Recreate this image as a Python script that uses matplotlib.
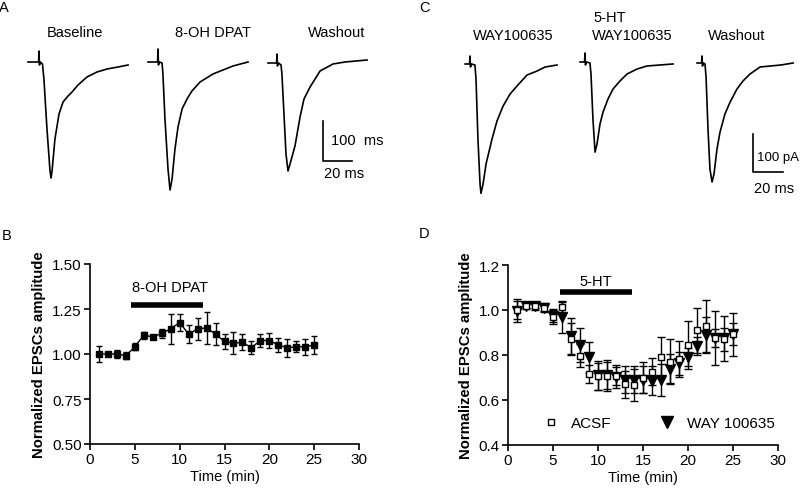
import matplotlib
matplotlib.use("Agg")
import matplotlib.pyplot as plt
from matplotlib.lines import Line2D
import numpy as np

plt.rcParams['font.family'] = ['Liberation Sans', 'DejaVu Sans']

# ---- panel B : 8-OH DPAT time course
temps = np.arange(1, 26)
dpat_moy = [1.00, 1.00, 1.00, 0.99, 1.04, 1.105, 1.095, 1.115, 1.14, 1.175,
            1.11, 1.14, 1.145, 1.11, 1.07, 1.06, 1.065, 1.035, 1.075, 1.075,
            1.05, 1.035, 1.04, 1.04, 1.05]
dpat_err = [0.045, 0.01, 0.02, 0.02, 0.02, 0.02, 0.01, 0.025, 0.085, 0.045,
            0.05, 0.06, 0.09, 0.06, 0.04, 0.06, 0.045, 0.035, 0.035, 0.04,
            0.04, 0.05, 0.03, 0.045, 0.05]
dpat_barre = (4.55, 12.6)

# ---- panel D : 5-HT, ACSF vs WAY 100635
acsf_moy = [1.00, 1.02, 1.02, 1.01, 0.97, 1.012, 0.871, 0.797, 0.714, 0.705,
            0.708, 0.708, 0.671, 0.667, 0.70, 0.726, 0.79, 0.77, 0.782, 0.845,
            0.911, 0.928, 0.874, 0.87, 0.893]
acsf_err = [0.04, 0.01, 0.01, 0.015, 0.03, 0.03, 0.07, 0.05, 0.04, 0.06,
            0.07, 0.04, 0.06, 0.07, 0.07, 0.06, 0.09, 0.1, 0.08, 0.105,
            0.10, 0.115, 0.04, 0.05, 0.05]
way_moy = [0.997, 1.02, 1.016, 1.01, 0.975, 0.967, 0.883, 0.845, 0.79, 0.71,
           0.71, 0.704, 0.69, 0.69, 0.69, 0.686, 0.69, 0.74, 0.763, 0.79,
           0.841, 0.89, 0.874, 0.874, 0.892]
way_err = [0.05, 0.015, 0.015, 0.02, 0.03, 0.07, 0.08, 0.075, 0.07, 0.065,
           0.06, 0.05, 0.06, 0.06, 0.06, 0.065, 0.07, 0.065, 0.05, 0.04,
           0.04, 0.08, 0.12, 0.1, 0.095]
ht_barre = (5.75, 13.8)

# ---- traces (ms, pA) relative to stimulus and baseline
# panel A
a_base_t = [-7.6, -0.3, 0, 0.3, 1.0, 2.4, 3.4, 5.5, 7.6, 8.3, 9.0, 11.0, 13.8, 16.6,
            20.0, 22.8, 26.9, 33.1, 40.0, 46.9, 54.5, 61.4]
a_base_i = [0, 0, 27.5, -7.5, 0, -5, -42.5, -167.5, -272.5, -290, -272.5, -192.5, -130,
            -100, -85, -75, -57.5, -37.5, -25, -17.5, -12.5, -7.5]
a_dpat_t = [-6.9, -0.3, 0, 0.3, 1.0, 2.8, 3.4, 4.8, 6.9, 8.3, 9.7, 11.7, 13.8, 16.6,
            20.0, 23.4, 29.0, 37.9, 51.7, 62.1]
a_dpat_i = [0, 0, 32.5, -7.5, 0, -2.5, -30, -142.5, -267.5, -320, -292.5, -217.5,
            -162.5, -117.5, -92.5, -72.5, -50, -30, -10, 0]
a_wash_t = [-6.2, -0.3, 0, 0.3, 1.0, 2.8, 3.4, 4.8, 6.2, 7.6, 9.0, 12.4, 15.9, 18.6,
            22.8, 29.7, 38.6, 46.9, 62.1]
a_wash_i = [0, 0, 22.5, -7.5, 0, -5, -27.5, -127.5, -227.5, -270, -252.5, -207.5,
            -135, -90, -60, -20, -2.5, 2.5, 7.5]
# panel C
c_way_t = [-3.3, -0.3, 0, 0.3, 1.0, 3.3, 4.0, 5.3, 6.7, 7.3, 8.7, 10.7, 14.7, 18.0,
           22.0, 26.7, 31.3, 38.0, 44.7, 50.0, 58.0]
c_way_i = [0, 0, 21, -8, 0, -2.6, -39.4, -197, -316, -340, -316, -263, -197, -150,
           -111, -79, -58, -29, -18.5, -8, -2.6]
c_ht_t = [-3.3, -0.3, 0, 0.3, 1.0, 3.3, 4.0, 5.3, 6.7, 8.0, 10.0, 12.0, 15.3, 18.7,
          23.3, 28.0, 34.7, 41.3, 58.7]
c_ht_i = [0, 0, 23.7, -8, 0, -2.6, -31.6, -150, -237, -216, -163, -132, -97.5, -71,
          -50, -31.6, -18.5, -10.5, -5.2]
c_wash_t = [-3.3, -0.3, 0, 0.3, 1.0, 2.0, 2.7, 4.0, 5.3, 6.7, 8.0, 10.0, 12.0, 15.3,
            18.7, 23.3, 27.3, 32.0, 38.7, 52.7, 60.7]
c_wash_i = [0, 0, 18.5, -8, 0, -2.6, -36.8, -174, -279, -313, -292, -226, -182, -134,
            -103, -68.5, -47.4, -29, -10.5, -5.2, 0]

W, H = 800, 489
fig = plt.figure(figsize=(W / 100, H / 100), dpi=100)


def fx(px):
    return px / W


def fy(py):
    return 1 - py / H


# ---------------- traces A
axA = fig.add_axes([0, fy(200), 0.5, 200 / H])
axA.set_xlim(0, 400 / 1.45)
axA.set_ylim(-200 * 2.5, 0)
axA.axis('off')
for t, i, x0, y0 in [(a_base_t, a_base_i, 39, 63), (a_dpat_t, a_dpat_i, 158, 63),
                     (a_wash_t, a_wash_i, 277, 64)]:
    axA.plot(np.array(t) + x0 / 1.45, np.array(i) - y0 * 2.5, color='black', lw=1.2)
sx, sy = 323 / 1.45, -162 * 2.5
axA.plot([sx, sx, sx + 20], [sy + 100, sy, sy], color='black', lw=1.2)

# ---------------- traces C
kc = 2.63
axC = fig.add_axes([0.5, fy(200), 0.5, 200 / H])
axC.set_xlim(0, 400 / 1.5)
axC.set_ylim(-200 * kc, 0)
axC.axis('off')
for t, i, x0, y0 in [(c_way_t, c_way_i, 470, 65), (c_ht_t, c_ht_i, 585, 63),
                     (c_wash_t, c_wash_i, 702, 64)]:
    axC.plot(np.array(t) + (x0 - 400) / 1.5, np.array(i) - y0 * kc, color='black', lw=1.2)
sx, sy = (753 - 400) / 1.5, -173 * kc
axC.plot([sx, sx, sx + 20], [sy + 100, sy, sy], color='black', lw=1.2)

fs = 10.5
# trace labels
fig.text(fx(75), fy(33), 'Baseline', ha='center', va='center', fontsize=fs)
fig.text(fx(213), fy(33), '8-OH DPAT', ha='center', va='center', fontsize=fs)
fig.text(fx(337), fy(33), 'Washout', ha='center', va='center', fontsize=fs)
fig.text(fx(331), fy(141), '100  ms', ha='left', va='center', fontsize=fs)
fig.text(fx(324), fy(174), '20 ms', ha='left', va='center', fontsize=fs)
fig.text(fx(513), fy(36), 'WAY100635', ha='center', va='center', fontsize=fs)
fig.text(fx(593), fy(18), '5-HT', ha='left', va='center', fontsize=fs)
fig.text(fx(632), fy(36), 'WAY100635', ha='center', va='center', fontsize=fs)
fig.text(fx(737), fy(36), 'Washout', ha='center', va='center', fontsize=fs)
fig.text(fx(757), fy(158), '100 pA', ha='left', va='center', fontsize=9.5)
fig.text(fx(754), fy(189), '20 ms', ha='left', va='center', fontsize=fs)

for lettre, x, y in [('A', 4, 8), ('B', 7, 236), ('C', 424, 8), ('D', 424, 234)]:
    fig.text(fx(x), fy(y), lettre, ha='center', va='center', fontsize=fs)


def style_axe(ax):
    for s in ['top', 'right']:
        ax.spines[s].set_visible(False)
    for s in ['left', 'bottom']:
        ax.spines[s].set_linewidth(1.2)
    ax.tick_params(direction='out', length=4, width=1.2, labelsize=11, pad=2)
    ax.set_xlim(0, 30)
    ax.set_xticks([0, 5, 10, 15, 20, 25, 30])
    ax.set_xlabel('Time (min)', fontsize=fs, labelpad=2)
    ax.set_ylabel('Normalized EPSCs amplitude', fontsize=10.7, fontweight='bold', labelpad=4)


# ---------------- panel B
axB = fig.add_axes([fx(90), fy(445), 269 / W, 180 / H])
style_axe(axB)
axB.set_ylim(0.5, 1.5)
axB.set_yticks([0.5, 0.75, 1.0, 1.25, 1.5])
axB.set_yticklabels(['0.50', '0.75', '1.00', '1.25', '1.50'])
axB.errorbar(temps, dpat_moy, yerr=dpat_err, color='black', marker='s', ms=5,
             lw=1, elinewidth=1, capsize=2.5, capthick=1)
axB.plot(dpat_barre, [1.274, 1.274], color='black', lw=4, solid_capstyle='butt')
axB.text(np.mean(dpat_barre) + 0.3, 1.375, '8-OH DPAT', ha='center', va='center', fontsize=fs)

# ---------------- panel D
axD = fig.add_axes([fx(508), fy(446), 270 / W, 180 / H])
style_axe(axD)
axD.set_ylim(0.4, 1.2)
axD.set_yticks([0.4, 0.6, 0.8, 1.0, 1.2])
axD.errorbar(temps, way_moy, yerr=way_err, color='black', marker='v', ms=7, ls='none',
             elinewidth=1, capsize=3, capthick=1)
axD.errorbar(temps, acsf_moy, yerr=acsf_err, color='black', marker='s', ms=4.5, ls='none',
             mfc='white', mew=1, elinewidth=1, capsize=3, capthick=1)
axD.plot(ht_barre, [1.078, 1.078], color='black', lw=4, solid_capstyle='butt')
axD.text(np.mean(ht_barre), 1.13, '5-HT', ha='center', va='center', fontsize=fs)
poignees = [Line2D([], [], ls='none', marker='s', ms=4.5, mfc='white', mec='black', mew=1),
            Line2D([], [], ls='none', marker='v', ms=8, color='black')]
axD.legend(poignees, ['ACSF', 'WAY 100635'], ncol=2, loc='center left',
           bbox_to_anchor=(0.132, 0.122), frameon=False, fontsize=11, handlelength=1.0,
           handletextpad=0.8, columnspacing=3.1, borderpad=0, borderaxespad=0)

fig.savefig('out.png', dpi=100)
